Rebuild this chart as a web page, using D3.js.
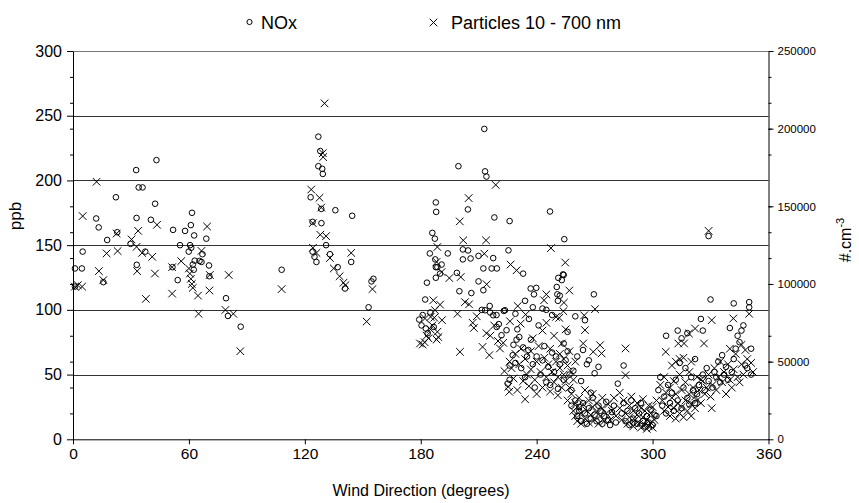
<!DOCTYPE html>
<html>
<head>
<meta charset="utf-8">
<script src="https://cdn.jsdelivr.net/npm/d3@7"></script>
<style>
  html, body { margin: 0; padding: 0; background: #fff; }
  svg { display: block; font-family: "Liberation Sans", Arial, sans-serif; }
</style>
</head>
<body>
<div id="chart"></div>
<script>
// ── Data ─────────────────────────────────────────────────────────────────────
// [wind direction (deg), NOx (ppb)]
const noxPoints = [
  [1,132],[4.6,132],[1,118],[5,145],[12,170.6],[13.3,163.7],[15.7,121.4],[17.7,154],[22.2,187],[22.9,160],
  [29.8,151],[32.7,208],[32.9,171],[33,134.8],[34,194.6],[36,194.6],[37.4,145],[40.3,169.6],[42.5,182],[43.2,215.7],
  [51.5,133],[51.8,161.8],[54.2,123],[55.4,150],[58,161],[59.9,145],[60.6,150],[61,165.5],[61.2,148],[61.6,175],
  [62,135],[62.5,131],[62.7,157.5],[63,138],[65.5,137.8],[66.5,137],[67,143],[69,155],[70.4,134.3],[70.6,126],
  [79.2,109],[80.2,95.3],[86.8,87],
  [108,131],[123,187],[124,168],[124,145],[125,141],[126,137],[127,233.8],[127,211],[128,222.7],[128.5,178],
  [128.6,167],[129,209],[129.3,205],[131,150],[133,143],[135.8,177],[137,133],[140.8,116.5],[144,137],[144.5,172.7],
  [153,102],[154.5,122],[155.5,124],
  [179.2,92.5],[180.4,88],[181,96],[182.3,108],[182.6,85.6],[183.2,121],[183.6,82],[184.7,143.6],[185,98],[186,159.5],
  [186.7,86.8],[187.3,155],[187.5,139],[187.8,183],[188,175.7],[187.8,133],[187.8,124.8],[188.6,133],[190,128],[190.8,135],
  [194,143.6],[198.7,128.6],[199.5,211],[200,114.4],[201.8,146.7],[201.8,139],[204.4,177.6],[204.5,145.9],[205.8,139.7],[206.2,113],
  [209.9,141.7],[209.9,122],[211.6,100],[212.4,132],[212.4,115.2],[212.9,239.8],[213.3,207],[214,203],[213.3,99.7],[215.7,103],
  [215.9,98],[216.7,132],[217.5,140],[217.5,95.8],[218.1,171.4],[219.2,96],[219.3,86.8],[219.4,132],[220.4,89],[221.8,80.4],
  [223,99.2],[223.6,99.7],[224.4,84.3],[225.4,146],[226,168.6],[229,97],[233,128],[236.9,116.5],[239.8,117],[238.6,112],
  [246.9,176],[250.4,117.7],[251.2,124.7],[253.6,127.4],[254.3,154.6],[269.6,112],
  [225,43],[226,46],[226,57],[227.6,65],[228,73],[229,59],[229.6,77],[230,85],[231,79],[232,55],
  [233,71],[234,107],[234,48],[235,64],[235.7,69],[236,93],[237,77],[238,102],[238,58],[239,40],
  [240,64],[241,88],[242,50],[243,61],[243,101],[244,72],[245,100],[245,44],[246,56],[247,42],
  [248,96],[248,67],[249,52],[250,64],[250.7,112],[251,107],[251,39],[252,111],[252,58],[253,123],
  [254,127],[254,74],[254,46],[255,61],[256,83],[256,68],[257,50],[258,38],[259,53],[260,95],
  [261,64],[262,25],[263,45],[264,69],[265,92],[266,58],[267,61],[268,36],[270,51],[272,56],
  [258,26],[260,30],[261,18],[262,22],[263,14],[264,28],[265,20],[266,12],[267,24],[268,16],
  [269,32],[270,19],[271,14],[272,26],[273,22],[274,12],[275,18],[276,29],[277,15],[278,11],
  [279,21],[280,26],[281,13],[282,43],
  [284,20],[285,57],[285,28],[286,14],[287,22],[288,11],[289,30],[290,16],[290,13],[291,24],
  [292,12],[293,20],[294,28],[295,14],[296,10],[297,18],[298,13],[299,23],[300,11],[301,19],[302,18],
  [303,38],[304,48],[305,26],[306,33],[307,80],[307,20],[308,42],[309,28],[310,36],[311,22],
  [312,46],[313,84],[313,30],[314,59],[315,78],[315,24],[316,40],[317,55],[318,82],[318,32],
  [319,27],[320,48],[321,38],[322,62],[322,28],
  [323,35],[324,42],[325,93],[326,84],[326,50],[327,38],[328,55],[329,157],[329,45],[330,108],
  [331,40],[332,52],[333,48],[334,60],[335,44],[336,65],[337,50],[338,56],[339,46],[340,86],
  [341,52],[342,105],[342,62],[343,70],[344,80],[345,75],[346,84],[347,88],[348,57],[349,55],
  [350,106],[350,102],[351,50],[351,70]
];

// [wind direction (deg), particles 10-700 nm (#/cm3)]
const particlePoints = [
  [1,98300],[2.5,99200],[4.7,98300],[5,143700],[12.2,165800],[13.4,108300],[15.7,102500],[17.4,119700],[22.6,132500],[23.1,121200],
  [30.3,128700],[32.9,123900],[33.2,108300],[33.7,134200],[35.8,120000],[37.7,90400],[41,117500],[42.4,106700],[43.5,138100],[51.3,110800],
  [51.3,93800],[56,114700],[60,110000],[60.5,106700],[61,103300],[61.5,100000],[62,97500],[64.7,92500],[65,80800],[66.5,121300],
  [69.4,137000],[70.6,95800],[70.8,105800],[78.9,83300],[80.6,105800],[83,80800],[86.6,56700],
  [108,96700],[123.3,160800],[124.1,139200],[124.2,123300],[126,120000],[127.6,155500],[128.5,149200],[129.3,184200],[129.5,181700],[130.2,216300],
  [128,131700],[131,130800],[133,116700],[135,110000],[138,105000],[140,100800],[141,99200],[144,120000],[152,75800],[155,96700],
  [188.6,123800],[188.2,114200],[190.8,107700],[194.8,103800],[200.7,104500],[202,128100],[204.8,155300],[200.2,140300],[213.8,128100],[212.9,119500],
  [214.1,99800],[218.8,163800],[226.5,112500],[229.6,108800],[202.9,88300],[205,86900],[230.2,85800],[226.2,76000],[243.8,89500],[247.4,123100],
  [254.8,113800],[254.1,88000],[256.9,95800],[251.7,78200],[253.8,82500],[245,93300],[234.3,80300],[231.7,74500],
  [206.9,75000],[207.5,71700],[212,59500],[215.5,54200],[214,68300],[216,66700],[209,79200],[218,73300],[220,63300],[222.7,62100],
  [221,58500],[223.3,43900],[225.3,33800],[225.8,30600],[200.3,56300],[199,80800],
  [179.6,61700],[181,61000],[182,62500],[183,66700],[184,65000],[185,70800],[186,73300],[187,78300],[188.6,69200],[189.1,65800],
  [188.2,64200],[186.5,89500],[187.4,83100],[185.1,78800],[182.2,77800],[190,86700],[191,76700],
  [226,50000],[227,45800],[228,39200],[229,55000],[230,31700],[231,48300],[232,58300],[233,37500],[234,25800],[234,51700],
  [235,41700],[236,34200],[237,56700],[237,45000],[238,65000],[239,38300],[240,50000],[240,29200],[241,60000],[242,43300],
  [243,70000],[243,33300],[244,52500],[245,40000],[245,75000],[246,48300],[247,30800],[247,58300],[248,43300],[249,66700],
  [249,36700],[250,50000],[250,78800],[251,40000],[251,28300],[252,55000],[252,45800],[253,33300],[253,61700],[254,51700],
  [254,41700],[255,37500],[255,70800],[256,25000],[256,47500],[257,56700],[257,33300],[258,43300],[258,29200],[259,38300],
  [260,50000],[260,23300],
  [259,18300],[260,15000],[261,20800],[261,11700],[262,26700],[263,16700],[263,10000],[264,22500],[265,13300],[265,31700],
  [266,18300],[267,25000],[267,10800],[268,15800],[269,20800],[269,29200],[270,12500],[271,17500],[271,23300],[272,10000],
  [273,15000],[274,20000],[274,26700],[275,11700],[276,16700],[277,22500],[278,12500],[279,18300],[280,26700],[281,15000],
  [270.2,83800],[264.6,79800],[265,70300],[264.1,61700],[272.8,60600],[273.6,55300],[269.3,56300],[286,58500],[286,41300],[283,30000],
  [283,20000],[284,12500],[285,25000],[286,16700],[287,10000],[288,21700],[288,14200],[289,27500],[290,18300],[290,8300],
  [291,12500],[292,23300],[292,15800],[293,10000],[294,20000],[294,7500],[295,14200],[295,25800],[296,9200],[296,18300],
  [297,6700],[297,12500],[298,21700],[298,8300],[299,10800],[299,16700],[300,7500],[300,20800],[301,12500],[302,25000],
  [304,35000],[305,25000],[306,18300],[306,40000],[307,30000],[306.8,56300],[308,20800],[309,15000],[309,33300],[310,26700],
  [311,20000],[311,37500],[312,13300],[312,29200],[313,23300],[313.3,61700],[314,16700],[314,41700],[315,31700],[315,20800],
  [316,14200],[316.3,61700],[317,25000],[317,36700],[318,18300],[318.8,68100],[319,29200],[319,43300],[320,22500],[320,15000],
  [321,33300],[322,20000],[322,27500],[322,71300],[310,47500],[312,50000],[314,51700],[316,52500],[320,50000],[323,40000],
  [325,38300],
  [323,25000],[324,31700],[325,23300],[326,37500],[326.6,61700],[327,29200],[328,33300],[329,41700],[329,134200],[330,27500],
  [330.6,20000],[330.6,76700],[331,35000],[332,45800],[333,31700],[334,40000],[335,50000],[336,36700],[337,43300],[338,29200],
  [339,48300],[340,58300],[340,38300],[341,33300],[341.8,77800],[342,45000],[343,55000],[344,40000],[345,36700],[346,60800],
  [346,48300],[347,41700],[348,57500],[349,51700],[350,80800],[351,49200],[352,43300]
];

const xTicks      = [0, 60, 120, 180, 240, 300, 360];
const yTicks      = [0, 50, 100, 150, 200, 250, 300];
const yMinorTicks = [20, 40, 60, 80, 120, 140, 160, 180, 220, 240, 260, 280];
const y2Ticks     = [0, 50000, 100000, 150000, 200000, 250000];

// ── Layout ────────────────────────────────────────────────────────────────────
const W = 859, H = 503;
const plot = { left: 73, right: 768.5, top: 51, bottom: 439.3 };
const FONT = '"Liberation Sans", Arial, sans-serif';

const x  = d3.scaleLinear().domain([0, 360]).range([plot.left, plot.right]);
const y  = d3.scaleLinear().domain([0, 300]).range([plot.bottom, plot.top]);
const y2 = d3.scaleLinear().domain([0, 250000]).range([plot.bottom, plot.top]);

const svg = d3.select('#chart').append('svg')
  .attr('width', W).attr('height', H);

// ── Gridlines ────────────────────────────────────────────────────────────────
svg.append('g').selectAll('line')
  .data(yTicks.filter(v => v > 0))
  .join('line')
  .attr('x1', plot.left).attr('x2', plot.right)
  .attr('y1', d => Math.round(y(d)) + 0.5).attr('y2', d => Math.round(y(d)) + 0.5)
  .attr('stroke', d => d === 300 ? '#777' : '#333').attr('stroke-width', 1);

// ── Axes ─────────────────────────────────────────────────────────────────────
const styleAxis = (a, size) => {
  a.select('.domain').attr('stroke', '#000');
  a.selectAll('.tick line').attr('stroke', '#000');
  a.selectAll('text').attr('fill', '#000').attr('font-size', size).attr('font-family', FONT);
};

// left
svg.append('g').attr('transform', `translate(${plot.left},0)`)
  .call(d3.axisLeft(y).tickValues(yTicks).tickSize(6).tickSizeOuter(0).tickPadding(5))
  .call(a => styleAxis(a, 16));
svg.append('g').attr('transform', `translate(${plot.left},0)`)
  .call(d3.axisLeft(y).tickValues(yMinorTicks).tickSize(3).tickFormat(''))
  .call(a => a.select('.domain').remove())
  .call(a => a.selectAll('.tick line').attr('stroke', '#000'));

// right
svg.append('g').attr('transform', `translate(${plot.right},0)`)
  .call(d3.axisRight(y2).tickValues(y2Ticks).tickSize(5).tickSizeOuter(0).tickPadding(4).tickFormat(d3.format('d')))
  .call(a => styleAxis(a, 11.5));
svg.append('g').attr('transform', `translate(${plot.right},0)`)
  .call(d3.axisRight(y).tickValues(yMinorTicks).tickSize(3).tickFormat(''))
  .call(a => a.select('.domain').remove())
  .call(a => a.selectAll('.tick line').attr('stroke', '#000'));

// bottom
svg.append('g').attr('transform', `translate(0,${plot.bottom})`)
  .call(d3.axisBottom(x).tickValues(xTicks).tickSize(5).tickSizeOuter(0).tickPadding(4))
  .call(a => styleAxis(a, 15.5));

// ── Axis titles ──────────────────────────────────────────────────────────────
svg.append('text')
  .attr('transform', 'translate(21,216) rotate(-90)')
  .attr('text-anchor', 'middle').attr('font-size', 17).attr('font-family', FONT)
  .text('ppb');

const rt = svg.append('text')
  .attr('transform', 'translate(851,240) rotate(-90)')
  .attr('text-anchor', 'middle').attr('font-size', 16).attr('font-family', FONT);
rt.append('tspan').text('#.cm');
rt.append('tspan').attr('dy', -7).attr('font-size', 11).text('-3');

svg.append('text')
  .attr('x', 421).attr('y', 496)
  .attr('text-anchor', 'middle').attr('font-size', 16).attr('font-family', FONT)
  .text('Wind Direction (degrees)');

// ── Markers ──────────────────────────────────────────────────────────────────
const CROSS = 3.8;
const crossPath = `M${-CROSS},${-CROSS}L${CROSS},${CROSS}M${-CROSS},${CROSS}L${CROSS},${-CROSS}`;

svg.append('g').selectAll('path')
  .data(particlePoints)
  .join('path')
  .attr('transform', d => `translate(${x(d[0])},${y2(d[1])})`)
  .attr('d', crossPath)
  .attr('fill', 'none').attr('stroke', '#000').attr('stroke-width', 1);

svg.append('g').selectAll('circle')
  .data(noxPoints)
  .join('circle')
  .attr('cx', d => x(d[0])).attr('cy', d => y(d[1]))
  .attr('r', 2.8)
  .attr('fill', 'none').attr('stroke', '#000').attr('stroke-width', 1);

// ── Legend ───────────────────────────────────────────────────────────────────
svg.append('circle')
  .attr('cx', 249.5).attr('cy', 22).attr('r', 2.6)
  .attr('fill', 'none').attr('stroke', '#000');
svg.append('text')
  .attr('x', 261).attr('y', 28.5).attr('font-size', 18).attr('font-family', FONT)
  .text('NOx');

svg.append('path')
  .attr('transform', 'translate(433.5,22.5)')
  .attr('d', crossPath)
  .attr('fill', 'none').attr('stroke', '#000');
svg.append('text')
  .attr('x', 451).attr('y', 28.5).attr('font-size', 18).attr('font-family', FONT)
  .text('Particles 10 - 700 nm');
</script>
</body>
</html>
